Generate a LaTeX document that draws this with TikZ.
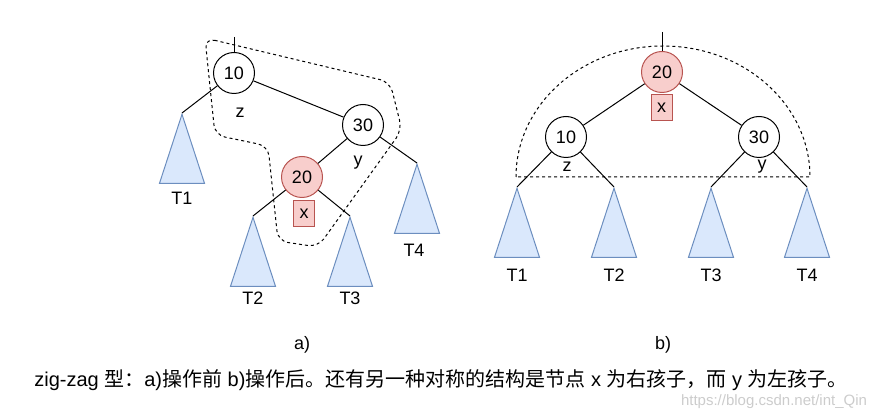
\documentclass[tikz,border=0pt]{standalone}
\usepackage{fontspec}
\setmainfont{Liberation Sans}
\newfontfamily\cjk{Noto Sans CJK SC}
\usepackage{tikz}
\usetikzlibrary{shapes.geometric, positioning}

\definecolor{xred}{HTML}{B85450}
\definecolor{xfill}{HTML}{F8CECC}
\definecolor{tblue}{HTML}{6C8EBF}
\definecolor{tfill}{HTML}{DAE8FC}

\begin{document}
\begin{tikzpicture}[
  x=1pt, y=-1pt, line width=1pt,
  every node/.style={font=\fontsize{18}{21}\selectfont, inner sep=0pt},
  key/.style={circle, draw, fill=white, minimum size=41pt},
  hot/.style={key, draw=xred, fill=xfill},
  tag/.style={draw=xred, fill=xfill, minimum width=21pt, minimum height=26pt},
  subtree/.style={isosceles triangle, isosceles triangle stretches, shape border rotate=90,
    minimum width=45pt, minimum height=69pt, draw=tblue, fill=tfill, anchor=apex},
  region/.style={dash pattern=on 3pt off 3pt}
]
\useasboundingbox (0,0) rectangle (881,419);

% Dashed regions
\draw[region, rounded corners=10pt] (205,38) -- (390,82) -- (402,130) -- (318,247)
  -- (278,241) -- (268,146) -- (215,135) -- cycle;
\draw[region] (516,177) .. controls (516,104.6) and (581.8,46) .. (663,46)
  .. controls (744.2,46) and (810,104.6) .. (810,177) -- cycle;

% a) before
\coordinate (topa) at (234,37);
\node[key] (za) at (234,73) {10};
\node[key] (ya) at (363,125) {30};
\node[hot] (xa) at (302,177) {20};
\node[tag] (xtaga) at (304,214) {x};
\node (zlaba) at (240,113) {z};
\node (ylaba) at (358,163) {y};
\node[subtree] (t1a) at (182,113) {};
\node[subtree] (t2a) at (253,216) {};
\node[subtree] (t3a) at (350,216) {};
\node[subtree] (t4a) at (417,163) {};
\node (l1a) at (182,198) {T1};
\node (l2a) at (253,298) {T2};
\node (l3a) at (350,298) {T3};
\node (l4a) at (414,250) {T4};

% b) after
\coordinate (topb) at (662,32);
\node[hot] (xb) at (662,72) {20};
\node[tag] (xtagb) at (661.5,108) {x};
\node[key] (zb) at (566,137) {10};
\node[key] (yb) at (759,137) {30};
\node (zlabb) at (567,167) {z};
\node (ylabb) at (762,167) {y};
\node[subtree] (t1b) at (517,187) {};
\node[subtree] (t2b) at (614,187) {};
\node[subtree] (t3b) at (711,187) {};
\node[subtree] (t4b) at (807,187) {};
\node (l1b) at (517,275) {T1};
\node (l2b) at (614,275) {T2};
\node (l3b) at (711,275) {T3};
\node (l4b) at (807,275) {T4};

% Edges
\draw (topa) -- (za);
\draw (za) -- (t1a.apex);
\draw (za) -- (ya);
\draw (ya) -- (xa);
\draw (ya) -- (t4a.apex);
\draw (xa) -- (t2a.apex);
\draw (xa) -- (t3a.apex);
\draw (topb) -- (xb);
\draw (xb) -- (zb);
\draw (xb) -- (yb);
\draw (zb) -- (t1b.apex);
\draw (zb) -- (t2b.apex);
\draw (yb) -- (t3b.apex);
\draw (yb) -- (t4b.apex);

% Captions
\node (capa) at (302,345) {a)};
\node (capb) at (663,345) {b)};
\node[font=\fontsize{20}{23}\selectfont] (caption) at (441,380)
  {zig-zag {\cjk 型：}a){\cjk 操作前} b){\cjk 操作后。还有另一种对称的结构是节点} x {\cjk 为右孩子，而} y {\cjk 为左孩子。}};
\node[font=\fontsize{15}{17}\selectfont, text=black!20] (mark) at (774,402) {https://blog.csdn.net/int\_Qin};
\end{tikzpicture}
\end{document}
